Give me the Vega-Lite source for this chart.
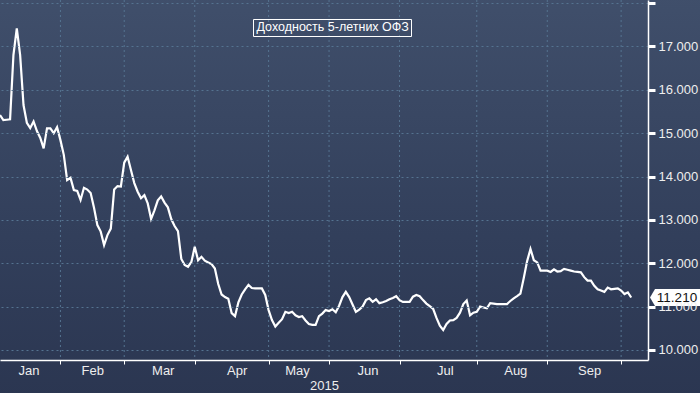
{
  "$schema": "https://vega.github.io/schema/vega-lite/v6.json",
  "width": 648,
  "height": 360,
  "autosize": {"type": "none"},
  "padding": {"left": 0, "top": 0, "right": 52, "bottom": 33},
  "background": "#2b3651",
  "config": {
    "view": {"stroke": null, "fill": null},
    "font": "Liberation Sans",
    "axis": {
      "labelFont": "Liberation Sans",
      "labelColor": "#eeeeee",
      "labelFontSize": 13,
      "domainColor": "#ffffff",
      "domainWidth": 1.5,
      "tickColor": "#ffffff",
      "gridColor": "#557390",
      "gridDash": [2, 3],
      "gridWidth": 1,
      "titleFont": "Liberation Sans",
      "titleColor": "#eeeeee",
      "titleFontSize": 13,
      "titleFontWeight": "normal"
    }
  },
  "datasets": {
    "bg": [{"panel": "background"}],
    "monthStarts": [{"day":18},{"day":37},{"day":58},{"day":80},{"day":98},{"day":119},{"day":142},{"day":163},{"day":185}],
    "yield": [
      {"day":0,"value":15.42},{"day":1,"value":15.30},{"day":2,"value":15.31},{"day":3,"value":15.32},{"day":4,"value":16.80},{"day":5,"value":17.42},{"day":6,"value":16.80},{"day":7,"value":15.65},{"day":8,"value":15.24},{"day":9,"value":15.12},
      {"day":10,"value":15.27},{"day":11,"value":15.05},{"day":12,"value":14.89},{"day":13,"value":14.65},{"day":14,"value":15.11},{"day":15,"value":15.11},{"day":16,"value":15.00},{"day":17,"value":15.14},{"day":18,"value":14.84},{"day":19,"value":14.50},
      {"day":20,"value":13.92},{"day":21,"value":13.97},{"day":22,"value":13.69},{"day":23,"value":13.67},{"day":24,"value":13.46},{"day":25,"value":13.74},{"day":26,"value":13.70},{"day":27,"value":13.62},{"day":28,"value":13.28},{"day":29,"value":12.88},
      {"day":30,"value":12.73},{"day":31,"value":12.42},{"day":32,"value":12.65},{"day":33,"value":12.80},{"day":34,"value":13.70},{"day":35,"value":13.78},{"day":36,"value":13.77},{"day":37,"value":14.32},{"day":38,"value":14.46},{"day":39,"value":14.15},
      {"day":40,"value":13.85},{"day":41,"value":13.65},{"day":42,"value":13.50},{"day":43,"value":13.57},{"day":44,"value":13.38},{"day":45,"value":13.02},{"day":46,"value":13.22},{"day":47,"value":13.45},{"day":48,"value":13.54},{"day":49,"value":13.40},
      {"day":50,"value":13.29},{"day":51,"value":13.02},{"day":52,"value":12.86},{"day":53,"value":12.74},{"day":54,"value":12.10},{"day":55,"value":11.96},{"day":56,"value":11.92},{"day":57,"value":12.03},{"day":58,"value":12.38},{"day":59,"value":12.07},
      {"day":60,"value":12.15},{"day":61,"value":12.06},{"day":62,"value":12.02},{"day":63,"value":11.98},{"day":64,"value":11.88},{"day":65,"value":11.52},{"day":66,"value":11.28},{"day":67,"value":11.22},{"day":68,"value":11.18},{"day":69,"value":10.85},
      {"day":70,"value":10.78},{"day":71,"value":11.10},{"day":72,"value":11.28},{"day":73,"value":11.40},{"day":74,"value":11.50},{"day":75,"value":11.43},{"day":76,"value":11.42},{"day":77,"value":11.42},{"day":78,"value":11.42},{"day":79,"value":11.27},
      {"day":80,"value":10.92},{"day":81,"value":10.69},{"day":82,"value":10.54},{"day":83,"value":10.63},{"day":84,"value":10.71},{"day":85,"value":10.88},{"day":86,"value":10.85},{"day":87,"value":10.88},{"day":88,"value":10.80},{"day":89,"value":10.76},
      {"day":90,"value":10.78},{"day":91,"value":10.68},{"day":92,"value":10.60},{"day":93,"value":10.58},{"day":94,"value":10.58},{"day":95,"value":10.78},{"day":96,"value":10.84},{"day":97,"value":10.92},{"day":98,"value":10.90},{"day":99,"value":10.94},
      {"day":100,"value":10.87},{"day":101,"value":11.02},{"day":102,"value":11.22},{"day":103,"value":11.34},{"day":104,"value":11.22},{"day":105,"value":11.05},{"day":106,"value":10.88},{"day":107,"value":10.93},{"day":108,"value":11.00},{"day":109,"value":11.15},
      {"day":110,"value":11.19},{"day":111,"value":11.11},{"day":112,"value":11.17},{"day":113,"value":11.08},{"day":114,"value":11.10},{"day":115,"value":11.13},{"day":116,"value":11.17},{"day":117,"value":11.20},{"day":118,"value":11.24},{"day":119,"value":11.15},
      {"day":120,"value":11.11},{"day":121,"value":11.11},{"day":122,"value":11.11},{"day":123,"value":11.23},{"day":124,"value":11.27},{"day":125,"value":11.24},{"day":126,"value":11.15},{"day":127,"value":11.07},{"day":128,"value":11.01},{"day":129,"value":10.95},
      {"day":130,"value":10.74},{"day":131,"value":10.56},{"day":132,"value":10.46},{"day":133,"value":10.60},{"day":134,"value":10.68},{"day":135,"value":10.69},{"day":136,"value":10.74},{"day":137,"value":10.86},{"day":138,"value":11.06},{"day":139,"value":11.14},
      {"day":140,"value":10.80},{"day":141,"value":10.86},{"day":142,"value":10.88},{"day":143,"value":11.00},{"day":144,"value":10.98},{"day":145,"value":10.96},{"day":146,"value":11.08},{"day":147,"value":11.07},{"day":148,"value":11.06},{"day":149,"value":11.06},
      {"day":150,"value":11.06},{"day":151,"value":11.06},{"day":152,"value":11.13},{"day":153,"value":11.19},{"day":154,"value":11.24},{"day":155,"value":11.30},{"day":156,"value":11.66},{"day":157,"value":12.05},{"day":158,"value":12.33},{"day":159,"value":12.07},
      {"day":160,"value":12.02},{"day":161,"value":11.83},{"day":162,"value":11.83},{"day":163,"value":11.83},{"day":164,"value":11.80},{"day":165,"value":11.86},{"day":166,"value":11.81},{"day":167,"value":11.82},{"day":168,"value":11.87},{"day":169,"value":11.85},
      {"day":170,"value":11.83},{"day":171,"value":11.81},{"day":172,"value":11.80},{"day":173,"value":11.79},{"day":174,"value":11.68},{"day":175,"value":11.60},{"day":176,"value":11.60},{"day":177,"value":11.48},{"day":178,"value":11.40},{"day":179,"value":11.37},
      {"day":180,"value":11.34},{"day":181,"value":11.44},{"day":182,"value":11.40},{"day":183,"value":11.41},{"day":184,"value":11.42},{"day":185,"value":11.37},{"day":186,"value":11.29},{"day":187,"value":11.33},{"day":188,"value":11.21}
    ]
  },
  "data": {"name": "yield"},
  "layer": [
    {
      "data": {"name": "bg"},
      "mark": {
        "type": "rect",
        "zindex": 0,
        "color": {
          "gradient": "linear", "x1": 0, "y1": 0, "x2": 0, "y2": 1,
          "stops": [
            {"offset": 0, "color": "#404f6b"},
            {"offset": 0.6, "color": "#323f5b"},
            {"offset": 1, "color": "#2b3651"}
          ]
        }
      },
      "encoding": {
        "x": {"datum": 0, "type": "quantitative"},
        "x2": {"datum": 209},
        "y": {"datum": 18.2, "type": "quantitative"},
        "y2": {"datum": 8.9}
      }
    },
    {
      "data": {"name": "monthStarts"},
      "mark": {"type": "rule", "color": "#557390", "strokeDash": [2, 3], "strokeWidth": 1, "zindex": 1},
      "encoding": {
        "x": {"field": "day", "type": "quantitative"}
      }
    },
    {
      "mark": {"type": "line", "color": "#ffffff", "strokeWidth": 2.2, "zindex": 2},
      "encoding": {
        "x": {
          "field": "day", "type": "quantitative",
          "scale": {"domain": [0, 193], "nice": false, "zero": false},
          "axis": {
            "zindex": 1,
            "values": [18, 37, 58, 80, 98, 119, 142, 163, 185],
            "labelExpr": "datum.value==18?'Jan':datum.value==37?'Feb':datum.value==58?'Mar':datum.value==80?'Apr':datum.value==98?'May':datum.value==119?'Jun':datum.value==142?'Jul':datum.value==163?'Aug':'Sep'",
            "labelOffset": -32,
            "grid": false,
            "tickSize": 4,
            "tickWidth": 1,
            "labelPadding": 0,
            "labelFlush": false,
            "labelOverlap": false,
            "title": "2015",
            "titlePadding": 2
          }
        },
        "y": {
          "field": "value", "type": "quantitative",
          "scale": {"domain": [9.769, 18.072], "nice": false, "zero": false},
          "axis": {
            "zindex": 1,
            "orient": "right",
            "values": [10, 10.5, 11, 11.5, 12, 12.5, 13, 13.5, 14, 14.5, 15, 15.5, 16, 16.5, 17, 17.5, 18],
            "labelExpr": "datum.value % 1 == 0 && datum.value < 18 ? format(datum.value, '.3f') : ''",
            "grid": true,
            "gridOpacity": {"condition": {"test": "datum.value % 1 == 0", "value": 1}, "value": 0},
            "tickSize": {"condition": {"test": "datum.value % 1 == 0", "value": 7}, "value": 4},
            "tickWidth": {"condition": {"test": "datum.value % 1 == 0", "value": 3}, "value": 1},
            "labelPadding": 3,
            "labelOverlap": false,
            "labelFlush": false,
            "labelBaseline": "middle",
            "title": null
          }
        }
      }
    },
    {
      "transform": [{"filter": "datum.day == 188"}],
      "mark": {
        "type": "point",
        "shape": "M -1 0 L -0.8 -0.34 L 1 -0.34 L 1 0.34 L -0.8 0.34 Z",
        "size": 2500,
        "filled": true,
        "opacity": 1,
        "strokeWidth": 0,
        "xOffset": 27,
        "zindex": 3
      },
      "encoding": {
        "x": {"datum": 193, "type": "quantitative"},
        "y": {"field": "value", "type": "quantitative"},
        "color": {
          "datum": "Доходность 5-летних ОФЗ",
          "type": "nominal",
          "scale": {"range": ["#ffffff"]},
          "legend": {
            "orient": "none",
            "legendX": 253,
            "legendY": 19,
            "title": null,
            "strokeColor": "#ffffff",
            "padding": 2,
            "symbolType": "circle",
            "symbolSize": 0,
            "symbolOpacity": 0,
            "symbolStrokeWidth": 0,
            "labelOffset": -11,
            "labelColor": "#ffffff",
            "labelFont": "Liberation Sans",
            "labelFontSize": 12.5,
            "labelLimit": 400,
            "zindex": 2
          }
        }
      }
    },
    {
      "transform": [{"filter": "datum.day == 188"}],
      "mark": {
        "type": "text",
        "align": "center",
        "baseline": "middle",
        "font": "Liberation Sans",
        "fontSize": 13.5,
        "color": "#111111",
        "xOffset": 29,
        "zindex": 3
      },
      "encoding": {
        "x": {"datum": 193, "type": "quantitative"},
        "y": {"field": "value", "type": "quantitative"},
        "text": {"field": "value", "type": "quantitative", "format": ".3f"}
      }
    }
  ]
}
